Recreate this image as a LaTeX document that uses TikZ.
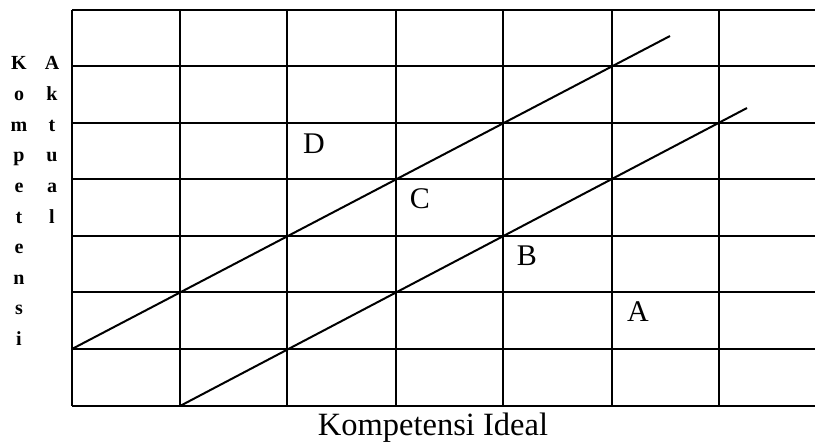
\documentclass[tikz,border=0pt]{standalone}
\usepackage{fontspec}
\setmainfont{Liberation Serif}
\begin{document}
\begin{tikzpicture}[x=1pt,y=-1pt,
  gridline/.style={line width=1.6pt,black},
  diag/.style={line width=2pt,black},
  sidelbl/.style={font=\fontsize{20}{20}\selectfont\bfseries,inner sep=0pt,anchor=base},
  celllbl/.style={font=\fontsize{30}{30}\selectfont,inner sep=0pt},
  titlelbl/.style={font=\fontsize{32.5}{32.5}\selectfont,inner sep=0pt,anchor=base}]
\useasboundingbox (0,0) rectangle (815,444);
% grid horizontals
\foreach \y in {10,66,123,179,236,292,349,406}
  \draw[gridline] (72,\y) -- (815,\y);
% grid verticals
\foreach \x in {72,180,287,396,503,612,719}
  \draw[gridline] (\x,10) -- (\x,406);
% diagonals
\draw[diag] (72,349) -- (670,36);
\draw[diag] (180,406) -- (747,108);
% cell labels
\node[celllbl] (D) at (314,144) {D};
\node[celllbl] (C) at (420,199) {C};
\node[celllbl] (B) at (527,256) {B};
\node[celllbl] (A) at (638,312) {A};
% axis title
\node[titlelbl] (title) at (433,435) {Kompetensi Ideal};
% vertical side labels
\foreach \ch [count=\i from 0] in {K,o,m,p,e,t,e,n,s,i}
  \node[sidelbl] (k\i) at (19,{70+30.6*\i}) {\ch};
\foreach \ch [count=\i from 0] in {A,k,t,u,a,l}
  \node[sidelbl] (a\i) at (52,{70+30.6*\i}) {\ch};
\end{tikzpicture}
\end{document}
